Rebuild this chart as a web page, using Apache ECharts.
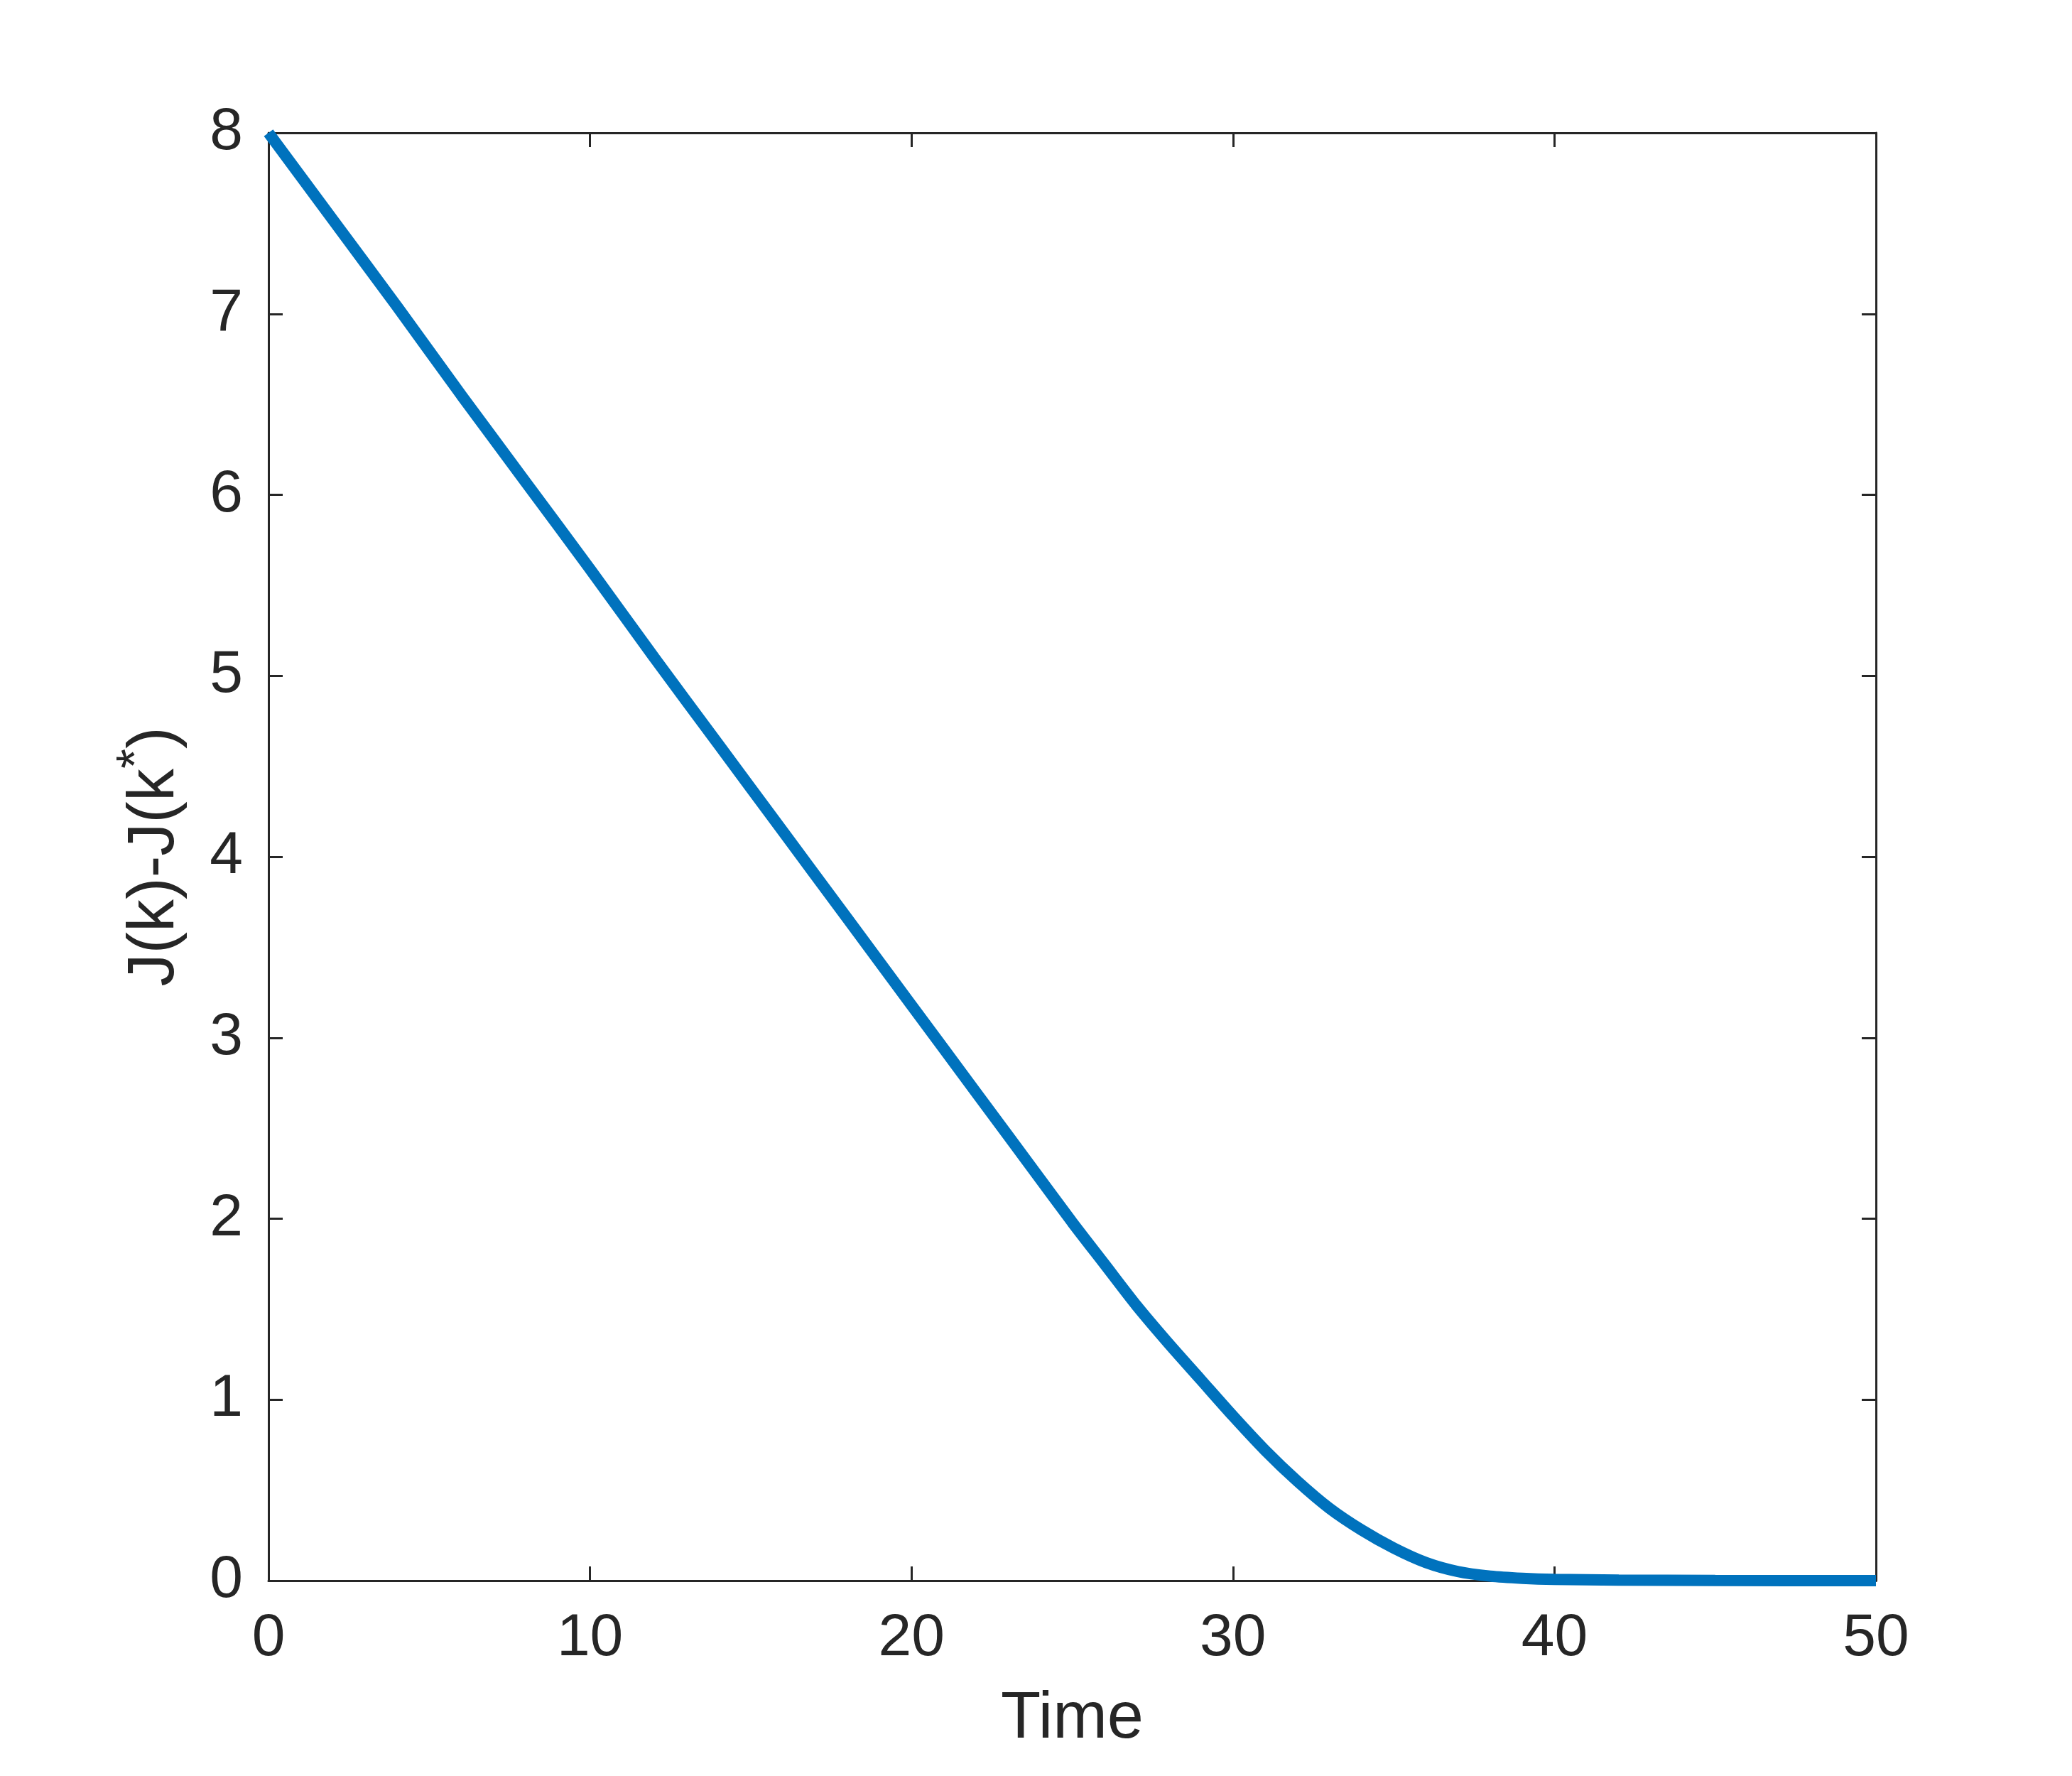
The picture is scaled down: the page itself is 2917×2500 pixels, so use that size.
<!DOCTYPE html>
<html>
<head>
<meta charset="utf-8">
<script src="https://cdn.jsdelivr.net/npm/echarts@6/dist/echarts.min.js"></script>
<style>
html, body { margin: 0; padding: 0; background: #fff; }
#chart { width: 2917px; height: 2500px; }
</style>
</head>
<body>
<div id="chart"></div>
<script>
// values
var timeValues = [0, 2, 4, 6, 8, 10, 12, 14, 16, 18, 20, 22, 24, 25, 26, 27, 28, 29, 30, 31, 32, 33, 34, 35, 36, 37, 38, 39, 40, 42, 45, 50];
var costGap = [8.00, 7.52, 7.04, 6.55, 6.07, 5.59, 5.10, 4.62, 4.14, 3.66, 3.18, 2.70, 2.22, 1.98, 1.75, 1.52, 1.31, 1.11, 0.91, 0.72, 0.55, 0.40, 0.28, 0.18, 0.10, 0.05, 0.025, 0.013, 0.007, 0.003, 0.001, 0];
var xTicks = [0, 10, 20, 30, 40, 50];
var yTicks = [0, 1, 2, 3, 4, 5, 6, 7, 8];

var FONT = 'Liberation Sans, Arial, Helvetica, sans-serif';
var INK = '#262626';

var points = [];
for (var i = 0; i < timeValues.length; i++) {
    points.push([timeValues[i], costGap[i]]);
}

function boxAxis(extra) {
    var ax = {
        type: 'value',
        axisLine: { show: true, onZero: false, lineStyle: { color: INK, width: 3 } },
        axisTick: { show: true, inside: true, length: 20, lineStyle: { color: INK, width: 3 } },
        splitLine: { show: false },
        axisLabel: { show: false }
    };
    for (var k in extra) ax[k] = extra[k];
    return ax;
}

var myChart = echarts.init(document.getElementById('chart'));
myChart.setOption({
    animation: false,
    backgroundColor: '#fff',
    grid: { left: 378, right: 276, top: 187, bottom: 275 },
    xAxis: [
        boxAxis({
            min: xTicks[0], max: xTicks[xTicks.length - 1], interval: 10,
            name: 'Time',
            nameLocation: 'middle',
            nameGap: 150,
            nameTextStyle: { fontFamily: FONT, fontSize: 92, color: INK },
            axisLabel: { show: true, margin: 40, fontFamily: FONT, fontSize: 84, color: INK }
        }),
        boxAxis({ position: 'top', min: 0, max: 50, interval: 10 })
    ],
    yAxis: [
        boxAxis({
            min: yTicks[0], max: yTicks[yTicks.length - 1], interval: 1,
            name: '{a|J(k)-J(k}{s|*}{a|)}',
            nameLocation: 'middle',
            nameGap: 98,
            nameTextStyle: {
                fontFamily: FONT, fontSize: 92, color: INK,
                rich: {
                    a: { fontFamily: FONT, fontSize: 92, lineHeight: 122, color: INK },
                    s: { fontFamily: FONT, fontSize: 72, lineHeight: 14, verticalAlign: 'top', color: INK }
                }
            },
            axisLabel: { show: true, margin: 36, fontFamily: FONT, fontSize: 84, color: INK }
        }),
        boxAxis({ position: 'right', min: 0, max: 8, interval: 1 })
    ],
    series: [
        {
            type: 'line',
            data: points,
            smooth: 0.25,
            showSymbol: false,
            clip: false,
            lineStyle: { color: '#0072BD', width: 16 }
        }
    ]
});
</script>
</body>
</html>
